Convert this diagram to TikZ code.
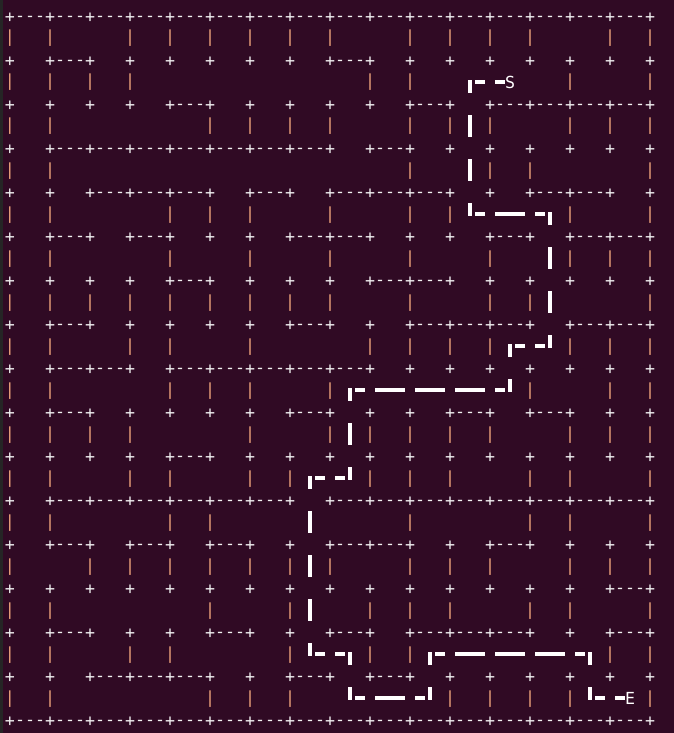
\documentclass[tikz,border=0pt]{standalone}
\usepackage{fontspec}
\setmonofont{DejaVu Sans Mono}
\definecolor{termbg}{HTML}{300A24}
\definecolor{termedge}{HTML}{252525}
\definecolor{fgw}{HTML}{F2F2F2}
\definecolor{fgp}{HTML}{EFA47C}
\newcommand\mazefont{\ttfamily\fontsize{16.61pt}{20pt}\selectfont}
\tikzset{
  glyph/.style={inner sep=0pt, outer sep=0pt, anchor=base, font=\mazefont},
  crossch/.style={glyph, text=fgw},
  dashch/.style={glyph, text=fgw},
  pipech/.style={glyph, text=fgp},
  markch/.style={glyph, text=white},
  trail/.style={fill=white},
}
% horizontal walls "---" on plus-row #1 for the cells listed in #2
\newcommand\hwalls[2]{\foreach \c in {#2}{\foreach \k in {1,2,3}{\node[dashch] (h-#1-\c-\k) at ({10+40*\c+10*\k},{17+44*#1+4.5}) {-};}}}
% vertical walls "|" on cell-row #1 at the boundaries listed in #2
\newcommand\vwalls[2]{\foreach \b in {#2}{\node[pipech] (v-#1-\b) at ({10+40*\b},{39+44*#1+4}) {|};}}
% path pieces: char column #1, text line #2
\newcommand\tdash[2]{\fill[trail] ({10+10*#1-5},{17+22*#2-2.8}) rectangle ({10+10*#1+5},{17+22*#2+0.6});}
\newcommand\tdashes[2]{\foreach \q in {#1}{\tdash{\q}{#2}}}
\newcommand\tbar[2]{\fill[trail] ({10+10*#1-1.7},{17+22*#2-12}) rectangle ({10+10*#1+1.7},{17+22*#2+9.8});}
\newcommand\tlow[2]{\fill[trail] ({10+10*#1-1.7},{17+22*#2-2.8}) rectangle ({10+10*#1+1.7},{17+22*#2+9.8});}
\newcommand\thigh[2]{\fill[trail] ({10+10*#1-1.7},{17+22*#2-12}) rectangle ({10+10*#1+1.7},{17+22*#2+0.6});}
\begin{document}
\begin{tikzpicture}[x=1pt,y=-1pt]
\useasboundingbox (0,0) rectangle (674,733);
\fill[termbg] (0,0) rectangle (674,733);
\fill[termedge] (0,0) rectangle (3.3,733);
% grid crosses
\foreach \r in {0,...,16}{\foreach \b in {0,...,16}{\node[crossch] (p-\r-\b) at ({10+40*\b},{17+44*\r+5.8}) {+};}}
% horizontal walls
\hwalls{0}{0,...,15}
\hwalls{1}{1,8}
\hwalls{2}{4,10,12,13,14,15}
\hwalls{3}{1,2,3,4,5,6,7,9}
\hwalls{4}{2,3,4,6,8,9,10,13,14}
\hwalls{5}{1,3,7,8,12,14,15}
\hwalls{6}{4,9,10}
\hwalls{7}{1,7,10,11,12,14,15}
\hwalls{8}{1,2,4,5,6,7,8}
\hwalls{9}{1,7,11,13}
\hwalls{10}{4}
\hwalls{11}{1,2,3,4,5,6,8,9,10,11,12,13,14,15}
\hwalls{12}{1,3,5,8,9,12}
\hwalls{13}{15}
\hwalls{14}{1,5,8,10,11,12,15}
\hwalls{15}{2,3,4,7,9}
\hwalls{16}{0,...,15}
% vertical walls
\vwalls{0}{0,1,3,4,5,6,7,8,10,11,12,13,15,16}
\vwalls{1}{0,1,2,3,9,10,14,16}
\vwalls{2}{0,1,5,6,7,8,10,11,12,14,15,16}
\vwalls{3}{0,1,10,12,13,16}
\vwalls{4}{0,1,4,5,6,8,10,11,14,16}
\vwalls{5}{0,1,4,6,8,10,12,14,15,16}
\vwalls{6}{0,1,2,3,4,5,6,7,8,10,12,13,16}
\vwalls{7}{0,1,3,4,6,9,10,11,12,14,15,16}
\vwalls{8}{0,1,4,5,6,8,13,15,16}
\vwalls{9}{0,1,2,3,6,8,9,10,11,12,14,15,16}
\vwalls{10}{0,1,3,4,6,7,9,10,11,13,14,16}
\vwalls{11}{0,1,4,5,10,13,14,16}
\vwalls{12}{0,2,3,4,5,6,7,8,10,11,12,14,15,16}
\vwalls{13}{0,1,5,7,9,10,11,13,14,16}
\vwalls{14}{0,1,3,4,7,9,10,15,16}
\vwalls{15}{0,1,5,6,7,11,12,13,14,16}
% start and end marks
\node[markch] (start) at (510,{83+5.4}) {S};
\node[markch] (end) at (630,{699+5.4}) {E};
% solution path
\tdashes{47,49}{3} \tlow{46}{3}
\tbar{46}{5} \tbar{46}{7} \thigh{46}{9}
\tdashes{47,49,50,51,53}{9} \tlow{54}{9}
\tbar{54}{11} \tbar{54}{13} \thigh{54}{15}
\tdashes{53,51}{15} \tlow{50}{15}
\thigh{50}{17} \tdashes{49,47,46,45,43,42,41,39,38,37,35}{17} \tlow{34}{17}
\tbar{34}{19} \thigh{34}{21}
\tdashes{33,31}{21} \tlow{30}{21}
\tbar{30}{23} \tbar{30}{25} \tbar{30}{27} \thigh{30}{29}
\tdashes{31,33}{29} \tlow{34}{29}
\thigh{34}{31} \tdashes{35,37,38,39,41}{31} \thigh{42}{31}
\tlow{42}{29} \tdashes{43,45,46,47,49,50,51,53,54,55,57}{29} \tlow{58}{29}
\thigh{58}{31} \tdashes{59,61}{31}
\end{tikzpicture}
\end{document}
